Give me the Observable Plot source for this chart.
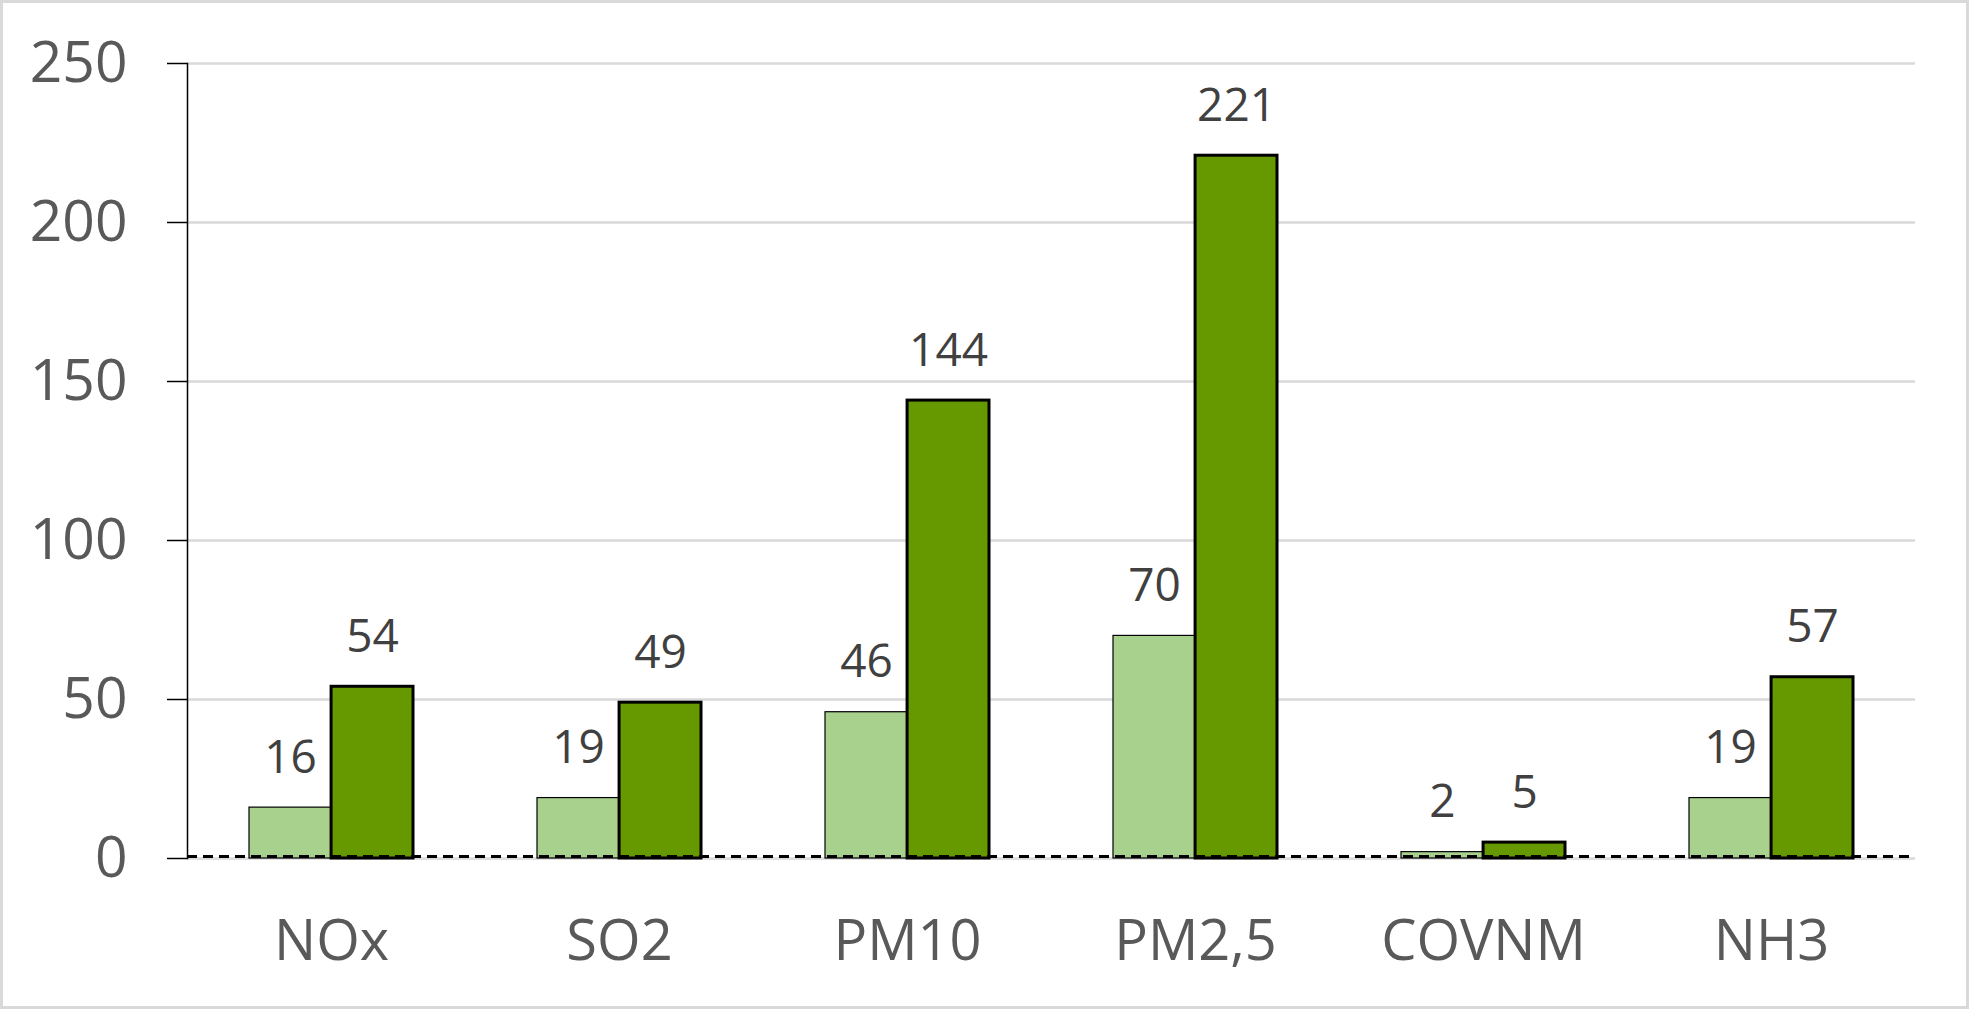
<!DOCTYPE html>
<html><head><meta charset="utf-8">
<script src="https://cdn.jsdelivr.net/npm/d3@7"></script>
<script src="https://cdn.jsdelivr.net/npm/@observablehq/plot@0.6"></script>
<style>
html,body{margin:0;padding:0;background:#fff;}
#chart{position:relative;width:1969px;height:1009px;}
#chart svg{display:block;}
#border{position:absolute;left:0;top:0;width:1969px;height:1009px;box-sizing:border-box;border:3px solid #d9d9d9;pointer-events:none;}
</style></head><body>
<div id="chart"><div id="border"></div></div>
<script>
const categories = ["NOx", "SO2", "PM10", "PM2,5", "COVNM", "NH3"];
const seriesLight = [16, 19, 46, 70, 2, 19];
const seriesDark = [54, 49, 144, 221, 5, 57];
const yTicks = [0, 50, 100, 150, 200, 250];

const W = 1969, H = 1009, mL = 187, mR = 54, mT = 63, mB = 151;
const padIn = 0.43, padOut = 0.215;
const step = (W - mL - mR) / (categories.length - padIn + 2 * padOut);
const bw = step * (1 - padIn);
const rows = categories.map((c, i) => ({cat: c, a: seriesLight[i], b: seriesDark[i]}));

const chart = Plot.plot({
  width: W, height: H,
  marginLeft: mL, marginRight: mR, marginTop: mT, marginBottom: mB,
  style: {fontFamily: "'Open Sans', sans-serif", background: "white", overflow: "visible"},
  x: {domain: categories, paddingInner: padIn, paddingOuter: padOut, label: null},
  y: {domain: [0, 250], label: null},
  marks: [
    Plot.ruleY(yTicks, {stroke: "#d9d9d9", strokeWidth: 2.5}),
    Plot.frame({anchor: "left", stroke: "black", strokeWidth: 1.5}),
    Plot.axisY(yTicks, {tickSize: 20, tickPadding: 40, fontSize: 57, stroke: "black", fill: "#595959", strokeWidth: 1.5, label: null}),
    Plot.axisX({tickSize: 0, tickPadding: 62, fontSize: 56, fill: "#595959", label: null}),
    Plot.barY(rows, {x: "cat", y: "a", insetRight: bw / 2, fill: "#a9d18e", stroke: "black", strokeWidth: 1.2}),
    Plot.barY(rows, {x: "cat", y: "b", insetLeft: bw / 2, fill: "#669900", stroke: "black", strokeWidth: 3}),
    Plot.ruleY([0], {stroke: "black", strokeWidth: 3.2, strokeDasharray: "10,6", dy: -2}),
    Plot.text(rows, {x: "cat", y: "a", text: "a", dx: -bw / 4, dy: -35, lineAnchor: "bottom", fontSize: 46, fill: "#404040"}),
    Plot.text(rows, {x: "cat", y: "b", text: "b", dx: bw / 4, dy: -35, lineAnchor: "bottom", fontSize: 46, fill: "#404040"})
  ]
});
document.getElementById("chart").prepend(chart);
</script>
</body></html>
